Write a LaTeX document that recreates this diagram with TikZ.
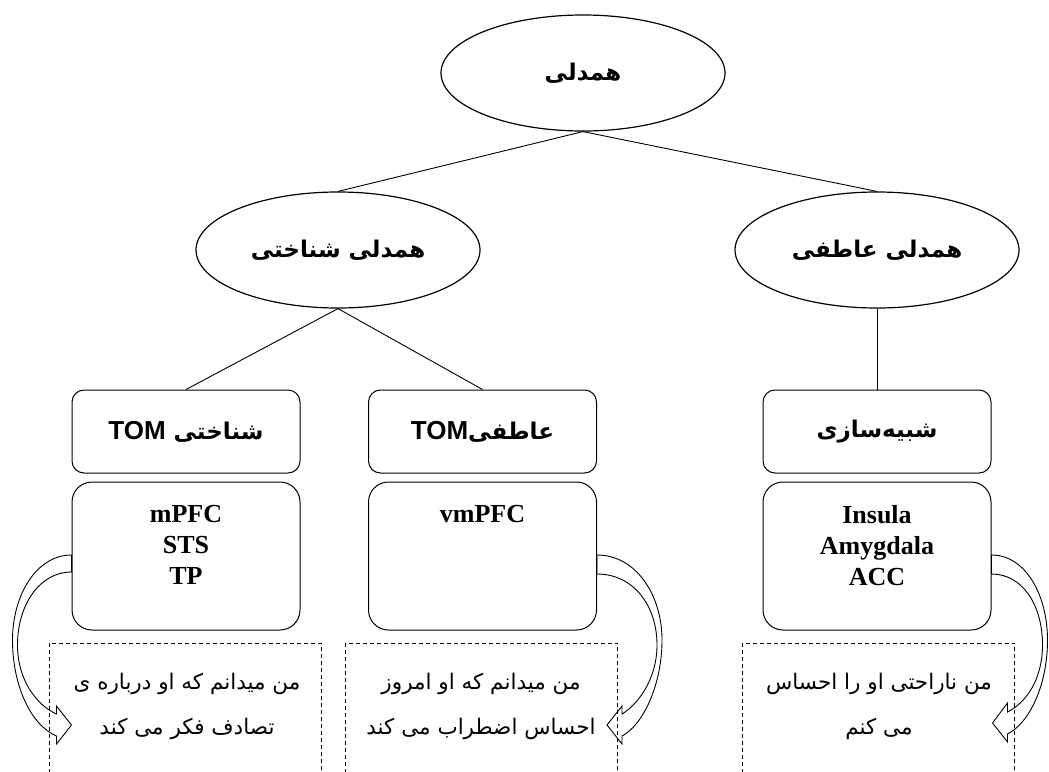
\documentclass[tikz,border=0pt]{standalone}
\usepackage{fontspec}
\setmainfont{Liberation Serif}
\newfontfamily\fa[Script=Arabic]{DejaVu Sans}
\newfontfamily\arial{Liberation Sans}
\TeXXeTstate=1
\usetikzlibrary{shapes.geometric,calc}
\begin{document}
\begin{tikzpicture}[x=1pt,y=-1pt,
  ell/.style={ellipse,draw,line width=1.2pt,minimum width=284pt,minimum height=116pt,inner sep=0pt,font=\fa\bfseries\fontsize{23}{27}\selectfont},
  topbox/.style={rectangle,rounded corners=12pt,draw,line width=1pt,minimum width=228pt,minimum height=83pt,inner sep=0pt,font=\fa\bfseries\fontsize{23}{27}\selectfont},
  lowbox/.style={rectangle,rounded corners=20pt,draw,line width=1pt,minimum width=228pt,minimum height=148pt,inner sep=0pt},
  regtext/.style={font=\bfseries\fontsize{26}{31}\selectfont,align=center,anchor=north,inner sep=0pt},
  dbox/.style={rectangle,draw,dash pattern=on 4pt off 3pt,line width=0.8pt,minimum width=272pt,minimum height=170pt,anchor=north,inner sep=0pt},
  dtext/.style={font=\fa\fontsize{21.5}{45}\selectfont,align=center,inner sep=0pt},
  conn/.style={draw,line width=0.9pt},
  bent/.style={draw,line width=0.9pt,line join=miter}
]
\clip (0,0) rectangle (1049,771);
% ellipses
\node[ell] (top) at (583,73) {\beginR همدلی\endR};
\node[ell] (L) at (338,250) {\beginR همدلی شناختی\endR};
\node[ell] (R) at (877,250) {\beginR همدلی عاطفی\endR};
% upper boxes
\node[topbox] (tb1) at (186,431.5) {\beginR شناختی {\arial\bfseries\fontsize{26}{30}\selectfont\beginL TOM\endL}\endR};
\node[topbox] (tb2) at (482.5,431.5) {\beginR عاطفی{\arial\bfseries\fontsize{26}{30}\selectfont\beginL TOM\endL}\endR};
\node[topbox] (tb3) at (877,431.5) {\beginR شبیه^^^^200cسازی\endR};
% lower boxes
\node[lowbox] (lb1) at (186,556) {};
\node[lowbox] (lb2) at (482.5,556) {};
\node[lowbox] (lb3) at (877,556) {};
\node[regtext] (r1) at (186,505) {mPFC\\STS\\TP};
\node[regtext] (r2) at (482.5,505) {vmPFC};
\node[regtext] (r3) at (877,505) {Insula\\Amygdala\\ACC};
% dashed boxes
\node[dbox] (d1) at (185,643) {};
\node[dbox] (d2) at (481.5,643) {};
\node[dbox] (d3) at (878.5,643) {};
\node[dtext] (q1) at (187,706) {\beginR من میدانم که او درباره ی\endR\\\beginR تصادف فکر می کند\endR};
\node[dtext] (q2) at (481,706) {\beginR من میدانم که او امروز\endR\\\beginR احساس اضطراب می کند\endR};
\node[dtext] (q3) at (879,706) {\beginR من ناراحتی او را احساس\endR\\\beginR می کنم\endR};
% connectors
\draw[conn] (top.south) -- (L.north);
\draw[conn] (top.south) -- (R.north);
\draw[conn] (L.south) -- (tb1.north);
\draw[conn] (L.south) -- (tb2.north);
\draw[conn] (R.south) -- (tb3.north);
% curved block arrows
\begin{scope}[shift={(lb1.west)},yshift=1pt,xscale=-1]
\draw[bent] (0,0) .. controls (35,0) and (59,40) .. (59,85) .. controls (59,130) and (41,170) .. (15,181) -- (15,189) -- (0,170) -- (15,151) -- (15,159) .. controls (35,150) and (54,125) .. (54,90) .. controls (54,50) and (32,17) .. (0,17) -- cycle;
\end{scope}
\begin{scope}[shift={(lb2.east)},yshift=1pt]
\draw[bent] (0,0) .. controls (39,0) and (65,40) .. (65,85) .. controls (65,130) and (46,170) .. (25,181) -- (25,189) -- (10,170) -- (25,151) -- (25,159) .. controls (40,150) and (60,125) .. (60,90) .. controls (60,50) and (36,19) .. (0,19) -- cycle;
\end{scope}
\begin{scope}[shift={(lb3.east)},yshift=1pt]
\draw[bent] (0,0) .. controls (34,0) and (56,40) .. (56,85) .. controls (56,130) and (38,168) .. (16,179) -- (16,187) -- (1,168) -- (16,148) -- (16,157) .. controls (34,148) and (51,125) .. (51,90) .. controls (51,50) and (31,19) .. (0,19) -- cycle;
\end{scope}
\end{tikzpicture}
\end{document}
